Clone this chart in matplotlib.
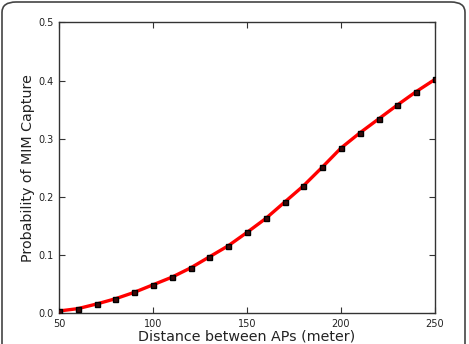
import matplotlib
matplotlib.use("Agg")
import matplotlib.pyplot as plt
from matplotlib.patches import FancyBboxPatch

# distance between APs (meter) and probability of MIM capture
distance = [50, 60, 70, 80, 90, 100, 110, 120, 130, 140, 150,
            160, 170, 180, 190, 200, 210, 220, 230, 240, 250]
prob = [0.004, 0.008, 0.016, 0.025, 0.036, 0.049, 0.062, 0.078, 0.097, 0.116, 0.139,
        0.163, 0.191, 0.219, 0.251, 0.284, 0.310, 0.334, 0.358, 0.381, 0.402]

xticks = [50, 100, 150, 200, 250]
yticks = [0.0, 0.1, 0.2, 0.3, 0.4, 0.5]

fig = plt.figure(figsize=(4.69, 3.44), dpi=100)
ax = fig.add_axes([0.1258, 0.0892, 0.8017, 0.8458])

ax.plot(distance, prob, '-', color='red', lw=2.4, zorder=2)
ax.plot(distance, prob, 's', ms=3.6, mfc='#3a0a0a', mec='black', mew=1, zorder=3)

ax.set_xlim(50, 250)
ax.set_ylim(0, 0.5)
ax.set_xticks(xticks)
ax.set_yticks(yticks)
ax.set_xticklabels([str(t) for t in xticks])
ax.set_yticklabels(['%.1f' % t for t in yticks])
ax.tick_params(direction='in', length=4, width=0.8, labelsize=7, pad=4,
               top=True, right=True, colors='#333333', labelcolor='#222222')
for s in ax.spines.values():
    s.set_color('#333333')
    s.set_linewidth(1)

ax.set_xlabel('Distance between APs (meter)', fontsize=10.3, labelpad=0.5, color='#222222')
ax.set_ylabel('Probability of MIM Capture', fontsize=10.3, labelpad=2, color='#222222')

# rounded frame around the figure
frame = FancyBboxPatch((2 / 469, -0.1), 463 / 469, 1.1 - 2 / 344,
                       boxstyle='round,pad=0,rounding_size=0.03',
                       transform=fig.transFigure, fill=False,
                       ec='#444444', lw=1.2, clip_on=False)
fig.patches.append(frame)

plt.savefig('out.png', dpi=100)
plt.close()
